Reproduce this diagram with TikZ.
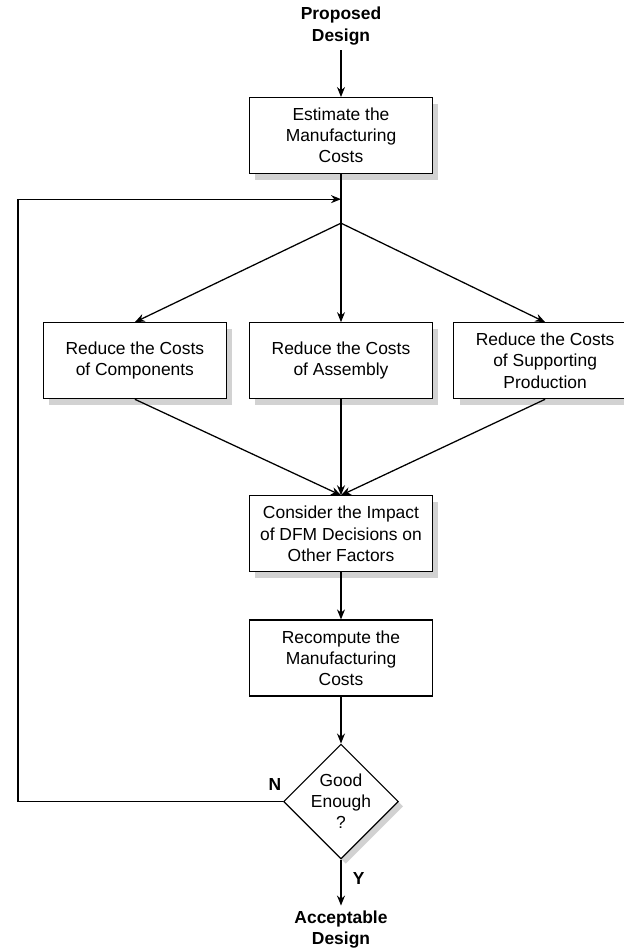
\documentclass[tikz,border=0pt]{standalone}
\usepackage{fontspec}
\setmainfont{Liberation Sans}
\usetikzlibrary{positioning, arrows.meta, shapes.geometric, shadows}

\begin{document}
\begin{tikzpicture}[
    stepbox/.style={rectangle, draw=black, line width=0.8pt, fill=white, minimum width=4.575cm, minimum height=1.9cm, align=center, font=\fontsize{12.4}{15}\selectfont},
    shadowbox/.style={stepbox, drop shadow={shadow xshift=0.15cm, shadow yshift=-0.15cm, fill=black!35, opacity=0.5}},
    decision/.style={diamond, draw=black, line width=0.8pt, fill=white, minimum width=2.75cm, minimum height=2.8cm, inner sep=0pt, align=center, font=\fontsize{12.4}{15}\selectfont, drop shadow={shadow xshift=0.12cm, shadow yshift=-0.12cm, fill=black!35, opacity=0.5}},
    endnode/.style={align=center, font=\bfseries\fontsize{12.4}{15.5}\selectfont},
    answer/.style={inner sep=0pt, font=\bfseries\fontsize{12.4}{15}\selectfont},
    flow/.style={-{Stealth[length=2.5mm, width=2mm]}, line width=0.9pt}
]
\useasboundingbox (-8.525, 0.65) rectangle (7.075, -23.075);

\node[endnode](prop){Proposed\\Design};
\node[shadowbox](est)[below = 1.175cm of prop]{Estimate the\\Manufacturing\\Costs};
\coordinate[below = 0.625cm of est.south] (join);
\coordinate[below = 1.225cm of est.south] (split);
\coordinate[left = 8.075cm of join] (fb);

\node[shadowbox](asm)[below = 3.7cm of est]{Reduce the Costs\\of Assembly};
\node[shadowbox](comp)[left = 0.55cm of asm]{Reduce the Costs\\of Components};
\node[shadowbox](supp)[right = 0.5cm of asm]{Reduce the Costs\\of Supporting\\Production};

\node[shadowbox](imp)[below = 2.4cm of asm]{Consider the Impact\\of DFM Decisions on\\Other Factors};
\node[stepbox](rec)[below = 1.175cm of imp]{Recompute the\\Manufacturing\\Costs};
\node[decision](good)[below = 1.175cm of rec]{Good\\Enough\\?};
\node[endnode](acc)[below = 1.15cm of good]{Acceptable\\Design};

\node[answer](no)[above left = 0.26cm and 0.04cm of good.west]{N};
\node[answer](yes)[below right = 0.31cm and 0.29cm of good.south]{Y};

\draw[flow] (prop) -- (est);
\draw[line width=0.9pt] (est) -- (split);
\draw[flow] (split) -- (comp.north);
\draw[flow] (split) -- (asm);
\draw[flow] (split) -- (supp.north);

\draw[flow] (comp.south) -- (imp.north);
\draw[flow] (asm) -- (imp);
\draw[flow] (supp.south) -- (imp.north);

\draw[flow] (imp) -- (rec);
\draw[flow] (rec) -- (good);
\draw[flow] (good) -- (acc);
\draw[flow] (good.west) -| (fb) -- (join);
\end{tikzpicture}
\end{document}
